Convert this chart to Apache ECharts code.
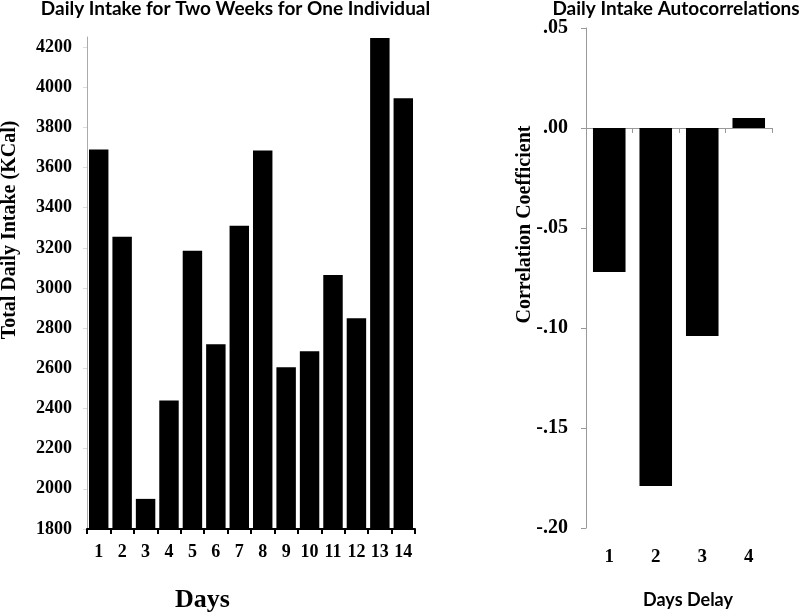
<!DOCTYPE html>
<html>
<head>
<meta charset="utf-8">
<script src="https://cdn.jsdelivr.net/npm/echarts@6/dist/echarts.min.js"></script>
<style>
html,body{margin:0;padding:0;background:#fff;}
#chart{width:800px;height:614px;}
</style>
</head>
<body>
<div id="chart"></div>
<script>
const days = ['1','2','3','4','5','6','7','8','9','10','11','12','13','14'];
const intake = [3690, 3255, 1950, 2440, 3185, 2720, 3310, 3685, 2605, 2685, 3065, 2850, 4245, 3945];
const delays = ['1','2','3','4'];
const autocorr = [-0.072, -0.179, -0.104, 0.005];

const SERIF = '"Liberation Serif", "Times New Roman", serif';
const SANS = 'Lato, "Open Sans", sans-serif';

function corrLabel(v) {
  const r = Math.round(v * 100) / 100;
  const s = Math.abs(r).toFixed(2).replace(/^0/, '');
  return (r < 0 ? '-' : '') + s;
}

const chart = echarts.init(document.getElementById('chart'), null, {renderer: 'canvas'});
chart.setOption({
  backgroundColor: '#ffffff',
  animation: false,
  title: [
    {text: 'Daily Intake for Two Weeks for One Individual', left: 235.5, top: -1, padding: 0, textAlign: 'center',
     textStyle: {fontFamily: SANS, fontWeight: 'bold', fontSize: 19, color: '#000'}},
    {text: 'Daily Intake Autocorrelations', left: 676, top: -1, padding: 0, textAlign: 'center',
     textStyle: {fontFamily: SANS, fontWeight: 'bold', fontSize: 19, color: '#000'}}
  ],
  grid: [
    {left: 87, top: 37, width: 328, height: 492, containLabel: false},
    {left: 586, top: 28, width: 186, height: 500, containLabel: false}
  ],
  xAxis: [
    {type: 'category', gridIndex: 0, data: days, position: 'bottom',
     axisLine: {onZero: false, lineStyle: {color: '#000', width: 2}},
     axisTick: {show: true, length: 5, lineStyle: {color: '#000', width: 2}},
     axisLabel: {margin: 14, fontFamily: SERIF, fontWeight: 'bold', fontSize: 18, color: '#000'},
     splitLine: {show: false}},
    {type: 'category', gridIndex: 1, data: delays, position: 'top',
     axisLine: {onZero: true, lineStyle: {color: '#999', width: 1}},
     axisTick: {show: true, inside: true, length: 5, lineStyle: {color: '#999', width: 1}},
     axisLabel: {show: false},
     splitLine: {show: false}},
    {type: 'category', gridIndex: 1, data: delays, position: 'bottom',
     axisLine: {show: false, onZero: false},
     axisTick: {show: false},
     axisLabel: {margin: 20, fontFamily: SERIF, fontWeight: 'bold', fontSize: 19, color: '#000'},
     splitLine: {show: false}}
  ],
  yAxis: [
    {type: 'value', gridIndex: 0, min: 1800, max: 4250, interval: 200,
     axisLine: {show: true, lineStyle: {color: '#aaa', width: 1}},
     axisTick: {show: true, length: 4, lineStyle: {color: '#ddd'}},
     axisLabel: {showMaxLabel: false, margin: 15, fontFamily: SERIF, fontWeight: 'bold', fontSize: 18, color: '#000',
                 formatter: function (v) { return String(v); }},
     splitLine: {show: false}},
    {type: 'value', gridIndex: 1, min: -0.2, max: 0.05, interval: 0.05,
     axisLine: {show: true, lineStyle: {color: '#999', width: 1}},
     axisTick: {show: true, length: 5, lineStyle: {color: '#999'}},
     axisLabel: {margin: 18, fontFamily: SERIF, fontWeight: 'bold', fontSize: 20, color: '#000', formatter: corrLabel},
     splitLine: {show: false}}
  ],
  series: [
    {type: 'bar', xAxisIndex: 0, yAxisIndex: 0, data: intake, barCategoryGap: '17%',
     itemStyle: {color: '#000'}},
    {type: 'bar', xAxisIndex: 1, yAxisIndex: 1, data: autocorr, barCategoryGap: '30%',
     itemStyle: {color: '#000'}}
  ],
  graphic: [
    {type: 'text', x: 10, y: 230, rotation: Math.PI / 2,
     style: {text: 'Total Daily Intake (KCal)', fill: '#000', font: 'bold 20px ' + SERIF, textAlign: 'center', textVerticalAlign: 'middle'}},
    {type: 'text', x: 525, y: 224.5, rotation: Math.PI / 2,
     style: {text: 'Correlation Coefficient', fill: '#000', font: 'bold 20px ' + SERIF, textAlign: 'center', textVerticalAlign: 'middle'}},
    {type: 'text', x: 202.5, y: 600,
     style: {text: 'Days', fill: '#000', font: 'bold 26px ' + SERIF, textAlign: 'center', textVerticalAlign: 'middle'}},
    {type: 'text', x: 688, y: 600,
     style: {text: 'Days Delay', fill: '#000', font: 'bold 18px ' + SANS, textAlign: 'center', textVerticalAlign: 'middle'}}
  ]
});
</script>
</body>
</html>
